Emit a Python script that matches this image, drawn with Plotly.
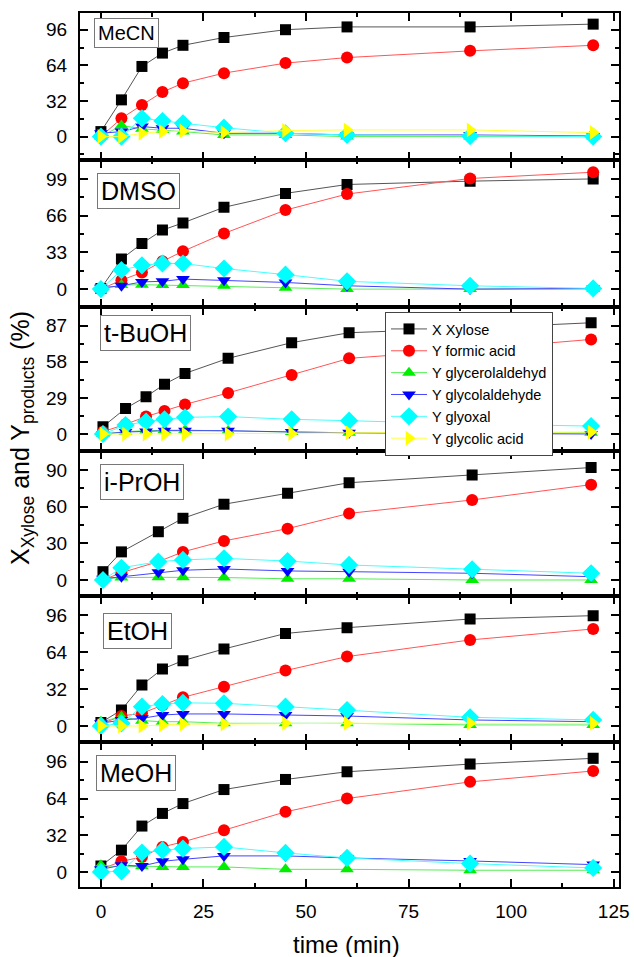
import plotly.graph_objects as go

# ---------------- data ----------------
solvents = ["MeCN", "DMSO", "t-BuOH", "i-PrOH", "EtOH", "MeOH"]
series_names = ["X Xylose", "Y formic acid", "Y glycerolaldehyd",
                "Y glycolaldehyde", "Y glyoxal", "Y glycolic acid"]

t_std = [0, 5, 10, 15, 20, 30, 45, 60, 90, 120]
t_tbuoh = [0.5, 6, 11, 15.5, 20.5, 31, 46.5, 60.5, 90.5, 119.5]
t_iproh = [0.5, 5, 14, 20, 30, 45.5, 60.5, 90.5, 119.5]

# MeCN
mecn_x = [4.5, 33, 63, 75, 82, 89, 96, 98.5, 98.5, 101]
mecn_formic = [0, 16.4, 28.4, 40, 48, 57, 66, 71, 77, 82]
mecn_glycerol = [0, 10, 7, 6, 4.5, 1.5, 1.5, 0, 0, 0]
mecn_glycolald = [3, 4.5, 9, 7.5, 7.5, 3, 3, 1.5, 1.5, 0.6]
mecn_glyoxal = [0, 0, 16.4, 14, 12, 8, 3, 1.5, 0.5, 0]
mecn_glycolic = [0, 0, 3, 4.5, 5, 3.6, 5.4, 6, 6, 3.6]

# DMSO
dmso_x = [0.6, 27, 41, 53, 59.5, 73.5, 86, 94, 97, 99]
dmso_formic = [0, 8, 15, 25, 34, 50, 71, 85.4, 99.4, 105]
dmso_glycerol = [0, 3.6, 4, 3.6, 3.6, 3, 1.2, 0, 0, 0]
dmso_glycolald = [1.2, 3, 6.5, 7, 9, 8, 6, 3, 0, 0.6]
dmso_glyoxal = [0, 17, 21.4, 23, 23, 18.5, 13, 7, 3, 0.6]

# t-BuOH
tbuoh_x = [5.9, 20.6, 30, 40, 48.7, 60.8, 73.4, 81.4, 85, 89.4]
tbuoh_formic = [1.9, 7.8, 14, 18.5, 23.8, 33, 47.4, 60.8, 68, 76]
tbuoh_glycerol = [0, 1.9, 2.7, 3.2, 3.2, 2.4, 1.6, 1, 0.5, 1]
tbuoh_glycolald = [0, 1.6, 2.1, 2.7, 2.7, 2.7, 1.6, 1, 0.5, 0]
tbuoh_glyoxal = [0, 7.2, 10, 11.8, 13.4, 14, 11.8, 10.7, 8, 6.4]
tbuoh_glycolic = [0, 0, 0, 0, 0, 0, 0.5, 1, 1, 1.6]

# i-PrOH
iproh_x = [6.8, 23, 39.5, 50.5, 62, 71, 79.6, 86, 92]
iproh_formic = [0, 6, 15, 23, 32, 42, 54.5, 65.5, 78]
iproh_glycerol = [1, 2, 2.2, 2.2, 2, 1, 1, 0, 0]
iproh_glycolald = [1, 2.7, 6.3, 8, 9, 7.4, 6.8, 5.5, 2.7]
iproh_glyoxal = [0, 10, 15, 16.4, 17.7, 15.5, 12.3, 8.7, 5.5]

# EtOH
etoh_x = [2.9, 13.8, 35.5, 49.3, 56.5, 66.6, 80, 85, 92.5, 95.4]
etoh_formic = [1.7, 8.6, 11, 18, 24.8, 34, 47.9, 60, 74.4, 83.9]
etoh_glycerol = [3.7, 8, 4.6, 3.7, 3.7, 2.3, 2.3, 2.3, 0.9, 0.9]
etoh_glycolald = [2.3, 5.2, 6.6, 9.5, 10.4, 10.4, 9.5, 8.6, 5.2, 3.7]
etoh_glyoxal = [0, 2.3, 16.7, 19, 20, 19.6, 16.7, 13.8, 7.5, 5.2]
etoh_glycolic = [0, 0, 0, 0.9, 1.7, 1.7, 2.3, 2.3, 2.3, 2.3]

# MeOH
meoh_x = [5.2, 19, 40, 51, 59.6, 71.8, 80.6, 87.3, 94, 99]
meoh_formic = [2.3, 9.3, 13, 21.8, 26.2, 36.4, 52.4, 64, 78.5, 88]
meoh_glycerol = [5.8, 4.4, 5, 4.4, 4.4, 4.4, 2.3, 2.3, 1.5, 1.5]
meoh_glycolald = [2.3, 5.8, 5.2, 9.3, 11, 14, 14, 12.2, 9.6, 6.4]
meoh_glyoxal = [0, 0.6, 16.9, 19, 20.4, 21.8, 16.6, 12.2, 7.3, 3.5]

panel_times = [t_std, t_std, t_tbuoh, t_iproh, t_std, t_std]
panel_series = [
    [mecn_x, mecn_formic, mecn_glycerol, mecn_glycolald, mecn_glyoxal, mecn_glycolic],
    [dmso_x, dmso_formic, dmso_glycerol, dmso_glycolald, dmso_glyoxal, None],
    [tbuoh_x, tbuoh_formic, tbuoh_glycerol, tbuoh_glycolald, tbuoh_glyoxal, tbuoh_glycolic],
    [iproh_x, iproh_formic, iproh_glycerol, iproh_glycolald, iproh_glyoxal, None],
    [etoh_x, etoh_formic, etoh_glycerol, etoh_glycolald, etoh_glyoxal, etoh_glycolic],
    [meoh_x, meoh_formic, meoh_glycerol, meoh_glycolald, meoh_glyoxal, None],
]
y_ranges = [[-21, 111], [-15.8, 116], [-13.4, 102.3], [-13.1, 105.8], [-13.6, 112.4], [-13.1, 113.5]]
y_dticks = [32, 33, 29, 30, 32, 32]
x_ticks = [0, 25, 50, 75, 100, 125]

# ---------------- style ----------------
colors = ["#000000", "#FF0000", "#00EE00", "#0000FF", "#00FFFF", "#FFFF00"]
line_colors = ["#555555", "#FF5555", "#55EE55", "#4444FF", "#44FFFF", "#FFFF44"]
symbols = ["square", "circle", "triangle-up", "triangle-down", "diamond", "triangle-right"]
sizes = [11, 12, 12, 12, 14, 13]
FONT = "Liberation Sans, Arial, sans-serif"

W, H = 634, 957
L, R_ = 80, 619
T, B = 13, 70
borders = [13, 160, 306.7, 450.7, 596, 741.7, 887]
plot_h = H - T - B
bottom_px = H - B


def fy(p):
    return (bottom_px - p) / plot_h


def fx(p):
    return (p - L) / (R_ - L)


def clamp(v):
    return min(1.0, max(0.0, v))


fig = go.Figure()
for i in range(6):
    ax = "" if i == 0 else str(i + 1)
    for k in range(6):
        vals = panel_series[i][k]
        if vals is None:
            continue
        fig.add_trace(go.Scatter(
            x=panel_times[i], y=vals, mode="lines+markers",
            name=series_names[k], legendrank=k + 1,
            showlegend=(i == 0),
            line=dict(color=line_colors[k], width=1),
            marker=dict(symbol=symbols[k], size=sizes[k], color=colors[k], line=dict(width=0)),
            xaxis="x" + ax, yaxis="y" + ax,
        ))

layout = dict(
    width=W, height=H, margin=dict(l=L, r=W - R_, t=T, b=B, autoexpand=False),
    paper_bgcolor="white", plot_bgcolor="white",
    font=dict(family=FONT, size=18, color="black"),
    showlegend=True,
    legend=dict(x=fx(385), y=fy(312), xanchor="left", yanchor="top",
                bordercolor="#444444", borderwidth=1, bgcolor="white",
                font=dict(size=14.5), tracegroupgap=0, itemwidth=36),
)
for i in range(6):
    ax = "" if i == 0 else str(i + 1)
    top, bot = borders[i], borders[i + 1]
    xa = dict(
        domain=[0, 1], anchor="y" + ax, range=[-5.1, 126.3],
        tickvals=x_ticks, showticklabels=(i == 5),
        ticks="inside", ticklen=8, tickwidth=2, tickcolor="black",
        minor=dict(ticks="inside", ticklen=4, tickwidth=2, tickcolor="black", dtick=12.5, tick0=0),
        showline=True, linewidth=2, linecolor="black", mirror="ticks",
        showgrid=False, zeroline=False, tickfont=dict(size=19),
        ticklabelstandoff=6, automargin=False,
    )
    if i > 0:
        xa["matches"] = "x"
    layout["xaxis" + ax] = xa
    layout["yaxis" + ax] = dict(
        domain=[clamp(fy(bot)), clamp(fy(top))], anchor="x" + ax, range=y_ranges[i],
        tick0=0, dtick=y_dticks[i],
        ticks="inside", ticklen=8, tickwidth=2, tickcolor="black",
        minor=dict(ticks="inside", ticklen=4, tickwidth=2, tickcolor="black", dtick=y_dticks[i] / 2, tick0=0),
        showline=True, linewidth=2, linecolor="black", mirror="ticks",
        showgrid=False, zeroline=False, tickfont=dict(size=19),
        ticklabelstandoff=7, automargin=False,
    )
fig.update_layout(**layout)

# panel labels
label_boxes = [(94, 18, 20), (97, 173, 25), (100, 315, 25), (100, 464, 25), (103, 613, 25), (96, 755, 25)]
for i, (px, py, fs) in enumerate(label_boxes):
    fig.add_annotation(x=fx(px), y=fy(py), xref="paper", yref="paper",
                       xanchor="left", yanchor="top", showarrow=False,
                       text=solvents[i], font=dict(size=fs, family=FONT),
                       bordercolor="#777777", borderwidth=1, borderpad=3, bgcolor="white")

# axis titles
fig.add_annotation(x=fx(22), y=fy(438), xref="paper", yref="paper", showarrow=False,
                   textangle=-90, xanchor="center", yanchor="middle",
                   text="X<sub>Xylose</sub> and Y<sub>products</sub> (%)", font=dict(size=25, family=FONT))
fig.add_annotation(x=fx(346), y=fy(944), xref="paper", yref="paper", showarrow=False,
                   xanchor="center", yanchor="middle",
                   text="time (min)", font=dict(size=24, family=FONT))

fig.write_html("out.html", config={"displayModeBar": False},
               post_script="document.body.style.margin='0';document.body.style.overflow='hidden';")
